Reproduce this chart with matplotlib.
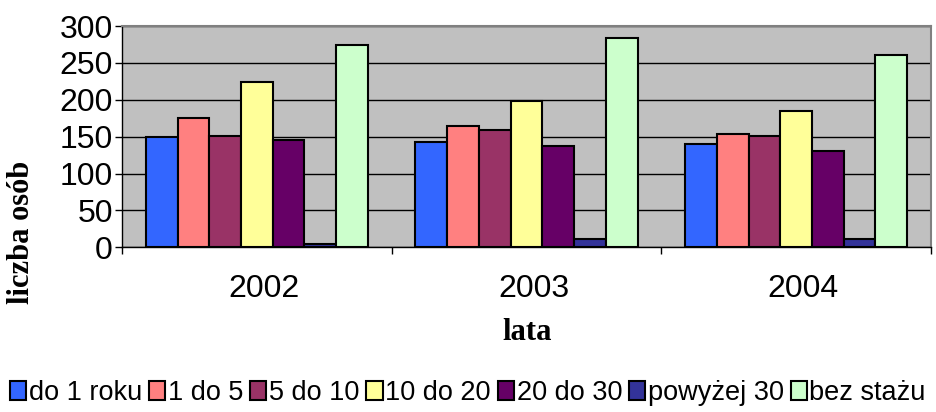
import matplotlib
matplotlib.use("Agg")
import matplotlib.pyplot as plt
import matplotlib.transforms as mtransforms
import numpy as np

years = ["2002", "2003", "2004"]
series_names = ["do 1 roku", "1 do 5", "5 do 10", "10 do 20", "20 do 30", "powyżej 30", "bez stażu"]
values = {
    "do 1 roku": [149, 143, 140],
    "1 do 5": [175, 164, 154],
    "5 do 10": [151, 159, 151],
    "10 do 20": [224, 198, 185],
    "20 do 30": [146, 138, 131],
    "powyżej 30": [5, 11, 11],
    "bez stażu": [274, 284, 261],
}
colors = ["#3366FF", "#FF8080", "#993366", "#FFFF99", "#660066", "#333399", "#CCFFCC"]
yticks = [0, 50, 100, 150, 200, 250, 300]

plt.rcParams['font.family'] = ['Liberation Sans', 'DejaVu Sans']

fig = plt.figure(figsize=(9.36, 4.12), dpi=100)
ax = fig.add_axes([122/936, 1-247.3/412, (931-122)/936, (247.3-26)/412])
ax.set_facecolor("#C0C0C0")

n = len(series_names)
w = 1.0 / (n + 1.5)
x = np.arange(len(years))
for i, (name, c) in enumerate(zip(series_names, colors)):
    offs = (i - (n - 1) / 2) * w
    ax.bar(x + offs, values[name], width=w, color=c, edgecolor="black", linewidth=1.5,
           label=name, zorder=3)

ax.set_xlim(-0.5, 2.5)
ax.set_ylim(0, 300)
ax.set_yticks(yticks)
ax.yaxis.grid(True, color="black", linewidth=1, zorder=1)
ax.set_axisbelow(True)
ax.tick_params(axis='y', labelsize=23, length=5, width=1, pad=1.5, direction='out')
ax.set_xticks(x)
ax.set_xticklabels(years)
ax.set_xticks([-0.5, 0.5, 1.5, 2.5], minor=True)
ax.tick_params(axis='x', which='major', length=0, labelsize=23, pad=19)
ax.tick_params(axis='x', which='minor', length=5, width=1, direction='out')
offset = mtransforms.ScaledTranslation(7/100, 0, fig.dpi_scale_trans)
for lab in ax.get_xticklabels():
    lab.set_transform(lab.get_transform() + offset)

for s in ["top", "right"]:
    ax.spines[s].set_color("#808080")
    ax.spines[s].set_linewidth(1.5)
for s in ["left", "bottom"]:
    ax.spines[s].set_color("black")
    ax.spines[s].set_linewidth(1)

fig.text(527/936, 1-333/412, "lata", ha="center", va="center", fontsize=22,
         fontweight="bold", family=["Liberation Serif", "DejaVu Serif"])
fig.text(22/936, 1-232/412, "liczba osób", ha="center", va="center", rotation=90,
         fontsize=22, fontweight="bold", family=["Liberation Serif", "DejaVu Serif"])

leg = fig.legend(loc="center", bbox_to_anchor=(468/936, 1-393/412), ncol=7, frameon=False,
                 fontsize=19.5, handlelength=0.6, handleheight=0.7, handletextpad=0.1,
                 columnspacing=0.25, borderpad=0, borderaxespad=0)

fig.savefig("out.png", dpi=100)
